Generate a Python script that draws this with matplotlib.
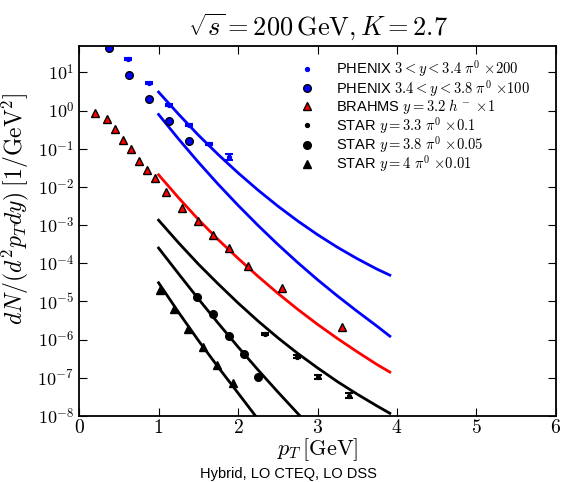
import numpy as np
import matplotlib
matplotlib.use("Agg")
import matplotlib.pyplot as plt

plt.rcParams['mathtext.fontset'] = 'cm'
plt.rcParams['font.family'] = ['Liberation Sans', 'DejaVu Sans']

# data points
phx1_x = [0.62, 0.88, 1.13, 1.38, 1.63, 1.88]
phx1_y = [23.0, 5.2, 1.43, 0.43, 0.134, 0.061]
phx1_err = [0.06, 0.06, 0.06, 0.06, 0.07, 0.2]

phx2_x = [0.38, 0.63, 0.88, 1.13, 1.38]
phx2_y = [43.6, 8.5, 1.96, 0.53, 0.16]

brahms_x = [0.20, 0.35, 0.45, 0.557, 0.654, 0.75, 0.85, 0.95, 1.09, 1.29,
            1.49, 1.69, 1.89, 2.13, 2.55, 3.31]
brahms_y = [0.88, 0.60, 0.336, 0.17, 0.099, 0.047, 0.028, 0.017, 0.0072,
            0.0028, 0.0013, 5.4e-4, 2.5e-4, 8.5e-5, 2.3e-5, 2.2e-6]

star1_x = [2.34, 2.74, 3.01, 3.40]
star1_y = [1.4e-6, 3.6e-7, 1.07e-7, 3.4e-8]
star1_err = [0.06, 0.08, 0.12, 0.18]

star2_x = [1.48, 1.68, 1.88, 2.08, 2.25]
star2_y = [1.3e-5, 4.6e-6, 1.26e-6, 4.3e-7, 1.07e-7]

star3_x = [1.015, 1.195, 1.375, 1.555, 1.73, 1.94]
star3_y = [1.95e-5, 6.2e-6, 1.9e-6, 6.3e-7, 2.2e-7, 7.2e-8]

# theory curves (log10 values)
c_x = [1.0, 1.25, 1.5, 1.75, 2.0, 2.25, 2.5, 2.75, 3.0, 3.25, 3.5, 3.75, 3.91]
c_phx1_l = [0.487, -0.09, -0.64, -1.15, -1.63, -2.08, -2.50, -2.89, -3.25,
            -3.58, -3.88, -4.155, -4.31]
c_phx2_l = [-0.10, -0.74, -1.35, -1.93, -2.48, -3.005, -3.505, -3.98, -4.43,
            -4.855, -5.26, -5.65, -5.91]
c_br_l = [-1.68, -2.28, -2.85, -3.38, -3.87, -4.34, -4.785, -5.205, -5.60,
          -5.97, -6.32, -6.655, -6.85]
c_st1_l = [-2.87, -3.46, -4.02, -4.54, -5.04, -5.51, -5.95, -6.36, -6.74,
           -7.10, -7.43, -7.74, -7.93]
c_st2_x = [1.0, 1.25, 1.5, 1.75, 2.0, 2.25, 2.5, 2.78]
c_st2_l = [-3.60, -4.27, -4.93, -5.57, -6.19, -6.79, -7.37, -8.0]
c_st3_x = [1.0, 1.25, 1.5, 1.75, 2.0, 2.22]
c_st3_l = [-4.51, -5.28, -6.02, -6.72, -7.40, -8.0]

fig = plt.figure(figsize=(5.61, 4.82), dpi=100)
ax = fig.add_axes([0.141, 0.137, 0.850, 0.768])

for cx, cl, col in [(c_x, c_phx1_l, 'blue'), (c_x, c_phx2_l, 'blue'),
                    (c_x, c_br_l, 'red'), (c_x, c_st1_l, 'black'),
                    (c_st2_x, c_st2_l, 'black'), (c_st3_x, c_st3_l, 'black')]:
    ax.plot(cx, 10.0**np.array(cl), color=col, lw=2)

def yerr(y, f):
    y = np.array(y); f = np.array(f)
    return [y - y / (1 + f), y * f]

ax.errorbar(phx1_x, phx1_y, yerr=yerr(phx1_y, phx1_err), fmt='none',
            ecolor='blue', capsize=3, elinewidth=1.5, capthick=1.5)
ax.errorbar(star1_x, star1_y, yerr=yerr(star1_y, star1_err), fmt='none',
            ecolor='black', capsize=3, elinewidth=1.5, capthick=1.5)

h1, = ax.plot(phx1_x, phx1_y, 'o', ms=2.8, color='blue', mec='blue',
              label=r'PHENIX $3<y<3.4$ $\pi^0$ $\times 200$')
h2, = ax.plot(phx2_x, phx2_y, 'o', ms=5.5, color='blue', mec='black',
              label=r'PHENIX $3.4<y<3.8$ $\pi^0$ $\times 100$')
h3, = ax.plot(brahms_x, brahms_y, '^', ms=5.5, color='red', mec='black',
              label=r'BRAHMS $y=3.2$ $h^-$ $\times 1$')
h4, = ax.plot(star1_x, star1_y, 'o', ms=2.8, color='black',
              label=r'STAR $y=3.3$ $\pi^0$ $\times 0.1$')
h5, = ax.plot(star2_x, star2_y, 'o', ms=5.5, color='black',
              label=r'STAR $y=3.8$ $\pi^0$ $\times 0.05$')
h6, = ax.plot(star3_x, star3_y, '^', ms=5.5, color='black',
              label=r'STAR $y=4$ $\pi^0$ $\times 0.01$')

ax.set_yscale('log')
ax.set_xlim(0, 6)
ax.set_ylim(1e-8, 50)

xt = [0, 1, 2, 3, 4, 5, 6]
ax.set_xticks(xt)
ax.set_xticklabels(['$%d$' % v for v in xt], fontsize=14)
yt = [1e-8, 1e-7, 1e-6, 1e-5, 1e-4, 1e-3, 1e-2, 1e-1, 1e0, 1e1]
ax.set_yticks(yt)
ax.set_yticklabels([r'$10^{%d}$' % int(np.log10(v)) for v in yt], fontsize=13)
ax.tick_params(which='both', direction='in', top=True, right=True)
ax.tick_params(which='major', length=6)
ax.tick_params(which='minor', length=3)
ax.tick_params(axis='x', pad=2)
for s in ax.spines.values():
    s.set_linewidth(1.3)

ax.set_xlabel(r'$p_T\,[\mathrm{GeV}]$', fontsize=16, labelpad=0)
ax.set_ylabel(r'$dN/(d^2p_Tdy)\;[1/\mathrm{GeV}^2]$', fontsize=17)
ax.yaxis.set_label_coords(-0.1, 0.56)
ax.set_title(r'$\sqrt{s}=200\,\mathrm{GeV}, K=2.7$', fontsize=19, pad=7)

ax.legend(handles=[h1, h2, h3, h4, h5, h6], loc='upper right',
          bbox_to_anchor=(0.958, 0.982), frameon=False, fontsize=10.5,
          handletextpad=1.5, labelspacing=-0.1, borderaxespad=0.0,
          handlelength=1.0)

fig.text(0.515, 0.0166, 'Hybrid, LO CTEQ, LO DSS', ha='center', va='center',
         fontsize=10.5)

fig.savefig('out.png', dpi=100)
